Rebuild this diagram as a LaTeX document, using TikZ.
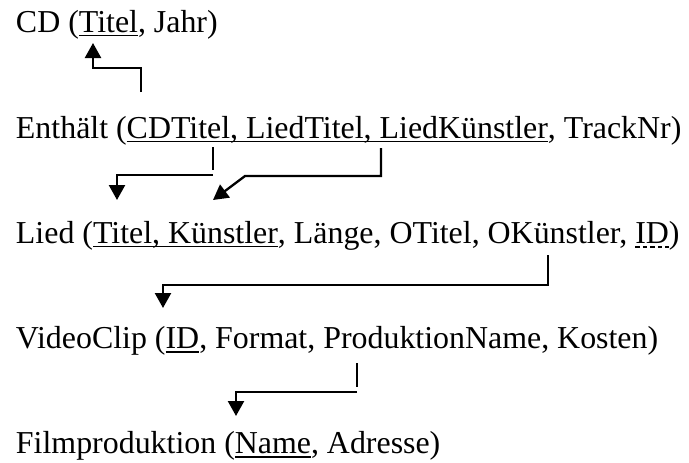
\documentclass[tikz,border=0pt]{standalone}
\usepackage{fontspec}
\setmainfont{Liberation Serif}
\usetikzlibrary{arrows.meta}
\tikzset{
  txt/.style={inner sep=0pt, outer sep=0pt, anchor=base west, font=\fontsize{31.9}{38}\selectfont},
  uline/.style={line width=1.8pt},
  dline/.style={line width=1.5pt, dash pattern=on 4.5pt off 3pt},
  conn/.style={line width=2.3pt},
  arr/.style={conn, -{Triangle[length=15pt, width=16pt]}},
}
\begin{document}
\begin{tikzpicture}[x=1pt, y=-1pt]
\useasboundingbox (0,0) rectangle (689,463);

% CD
\node[txt] (cd1) at (16,32) {CD (};
\node[txt] (cdk) at (cd1.base east) {Titel};
\node[txt] (cd2) at (cdk.base east) {, Jahr)};
\draw[uline] ([yshift=-3.5pt]cdk.base west) -- ([yshift=-3.5pt]cdk.base east);

% Enthaelt
\node[txt] (en1) at (16,138) {Enthält (};
\node[txt] (enk) at (en1.base east) {CDTitel, LiedTitel, LiedKünstler};
\node[txt] (en2) at (enk.base east) {, TrackNr)};
\draw[uline] ([yshift=-3.5pt]enk.base west) -- ([yshift=-3.5pt]enk.base east);

% Lied
\node[txt] (li1) at (16,243) {Lied (};
\node[txt] (lik) at (li1.base east) {Titel, Künstler};
\node[txt] (li2) at (lik.base east) {, Länge, OTitel, OKünstler,\hbox to 0.25em{}};
\node[txt] (lid) at (li2.base east) {ID};
\node[txt] (li3) at (lid.base east) {)};
\draw[uline] ([yshift=-3.5pt]lik.base west) -- ([yshift=-3.5pt]lik.base east);
\draw[dline] ([yshift=-4pt]lid.base west) -- ([yshift=-4pt]lid.base east);

% VideoClip
\node[txt] (vc1) at (16,348) {VideoClip (};
\node[txt] (vck) at (vc1.base east) {ID};
\node[txt] (vc2) at (vck.base east) {, Format, ProduktionName, Kosten)};
\draw[uline] ([yshift=-4pt]vck.base west) -- ([yshift=-4pt]vck.base east);

% Filmproduktion
\node[txt] (fp1) at (16,453) {Filmproduktion (};
\node[txt] (fpk) at (fp1.base east) {Name};
\node[txt] (fp2) at (fpk.base east) {, Adresse)};
\draw[uline] ([yshift=-4pt]fpk.base west) -- ([yshift=-4pt]fpk.base east);

% connector coordinates
\coordinate (cdS) at (141,92);
\coordinate (cdT) at (93,43);
\coordinate (e1S) at (213,147);
\coordinate (e1E) at (213,170);
\coordinate (e1B) at (213,175);
\coordinate (e1T) at (117,200);
\coordinate (e2S) at (381,148);
\coordinate (e2B) at (245,176);
\coordinate (e2T) at (213,200);
\coordinate (liS) at (548,255);
\coordinate (liT) at (163,308);
\coordinate (vcS) at (357,363);
\coordinate (vcE) at (357,387);
\coordinate (vcB) at (357,392);
\coordinate (vcT) at (236,416);

% connectors
\draw[arr] (cdS) -- (cdS |- 0,68) -| (cdT);
\draw[conn] (e1S) -- (e1E);
\draw[arr] (e1B) -| (e1T);
\draw[arr] (e2S) |- (e2B) -- (e2T);
\draw[arr] (liS) -- (liS |- 0,285) -| (liT);
\draw[conn] (vcS) -- (vcE);
\draw[arr] (vcB) -| (vcT);
\end{tikzpicture}
\end{document}
